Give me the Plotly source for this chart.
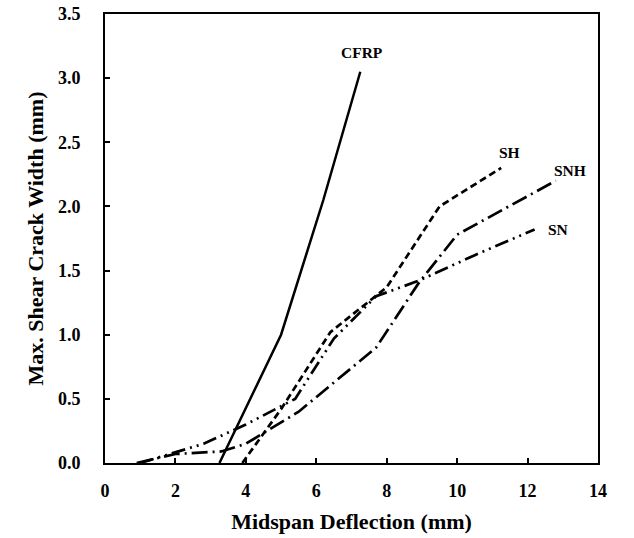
import plotly.graph_objects as go

# Data
cfrp_x = [3.25, 4.0, 5.0, 6.2, 7.25]
cfrp_y = [0.0, 0.43, 1.0, 2.05, 3.05]

sh_x = [3.9, 5.0, 6.4, 8.0, 9.5, 11.25]
sh_y = [0.0, 0.42, 1.02, 1.37, 2.0, 2.3]

snh_x = [0.9, 2.0, 3.3, 4.0, 5.5, 7.7, 8.9, 10.0, 12.8]
snh_y = [0.0, 0.07, 0.09, 0.15, 0.4, 0.9, 1.4, 1.78, 2.2]

sn_x = [1.0, 2.8, 4.0, 5.4, 6.5, 7.7, 8.9, 10.5, 12.2]
sn_y = [0.0, 0.15, 0.3, 0.5, 0.97, 1.3, 1.42, 1.62, 1.82]

series_names = ["CFRP", "SH", "SNH", "SN"]
label_x = [7.3, 11.5, 13.2, 12.87]
label_y = [3.2, 2.42, 2.28, 1.82]

x_ticks = [0, 2, 4, 6, 8, 10, 12, 14]
y_ticks = [0.0, 0.5, 1.0, 1.5, 2.0, 2.5, 3.0, 3.5]
y_tick_text = ["0.0", "0.5", "1.0", "1.5", "2.0", "2.5", "3.0", "3.5"]

FONT = "Liberation Serif"

fig = go.Figure()
styles = [
    ("solid", 2.5),
    ("7px,4px", 2.7),
    ("16px,5px,2px,5px", 2.7),
    ("14px,5px,2px,5px,2px,5px", 2.7),
]
data = [(cfrp_x, cfrp_y), (sh_x, sh_y), (snh_x, snh_y), (sn_x, sn_y)]
for (xs, ys), name, (dash, w) in zip(data, series_names, styles):
    fig.add_trace(go.Scatter(x=xs, y=ys, mode="lines", name=name,
                             line=dict(color="black", width=w, dash=dash),
                             showlegend=False))

for name, lx, ly in zip(series_names, label_x, label_y):
    fig.add_annotation(x=lx, y=ly, text=name, showarrow=False,
                       font=dict(family=FONT, size=15.5, color="black", weight="bold"))

fig.update_layout(
    width=634, height=538,
    margin=dict(l=105, r=36, t=14, b=75),
    plot_bgcolor="white", paper_bgcolor="white",
    font=dict(family=FONT, color="black"),
)
fig.update_xaxes(
    range=[0, 14], tickvals=x_ticks, ticks="inside", ticklen=5, tickwidth=1.5,
    tickcolor="black", showline=True, linecolor="black", linewidth=2, mirror=True,
    showgrid=False, zeroline=False, automargin=False, ticklabelstandoff=10,
    tickfont=dict(family=FONT, size=18, color="black", weight="bold"),
    title=dict(text="Midspan Deflection (mm)", standoff=14,
               font=dict(family=FONT, size=22, color="black", weight="bold")),
)
fig.update_yaxes(
    range=[0, 3.5], tickvals=y_ticks, ticktext=y_tick_text, ticks="inside", ticklen=5,
    tickwidth=1.5, tickcolor="black", showline=True, linecolor="black", linewidth=2,
    mirror=True, showgrid=False, zeroline=False, automargin=False, ticklabelstandoff=19,
    tickfont=dict(family=FONT, size=18, color="black", weight="bold"),
    title=dict(text="Max. Shear Crack Width (mm)", standoff=8,
               font=dict(family=FONT, size=22, color="black", weight="bold")),
)

fig.write_html("out.html",
               config={"displayModeBar": False},
               post_script="document.body.style.margin='0';document.body.style.overflow='hidden';")
